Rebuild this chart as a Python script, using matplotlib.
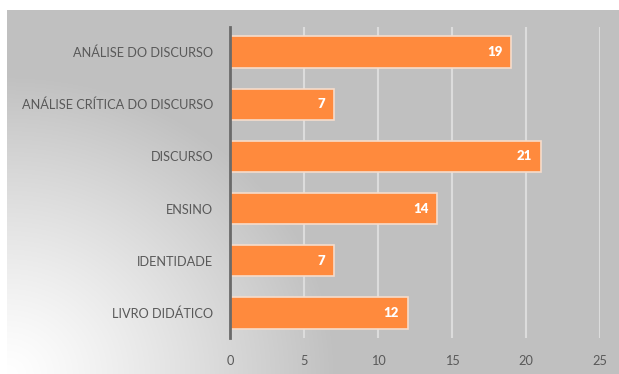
import matplotlib.pyplot as plt
import numpy as np

categorias = ['ANÁLISE DO DISCURSO', 'ANÁLISE CRÍTICA DO DISCURSO', 'DISCURSO',
              'ENSINO', 'IDENTIDADE', 'LIVRO DIDÁTICO']
valores = [19, 7, 21, 14, 7, 12]
ticks_x = [0, 5, 10, 15, 20, 25]

plt.rcParams['font.family'] = ['Lato', 'DejaVu Sans']

fig = plt.figure(figsize=(6.19, 3.74), dpi=100)

# fundo cinza com gradiente radial claro no canto inferior esquerdo
bg = fig.add_axes([7 / 619, 0, 612 / 619, 364 / 374], zorder=-10)
W, H = 612, 364
xx, yy = np.meshgrid(np.arange(W), np.arange(H))
d = np.sqrt((xx / 330.0) ** 2 + ((H - yy) / 300.0) ** 2)
t = np.clip(d, 0, 1) ** 1.2
g = 1.0 - t * (1.0 - 0.753)
img = np.dstack([g, g, g])
bg.imshow(img, aspect='auto', extent=[0, 1, 0, 1], origin='upper')
bg.set_axis_off()

ax = fig.add_axes([230 / 619, 36 / 374, 370 / 619, 311 / 374])
ax.patch.set_alpha(0)
y = np.arange(len(categorias))
ax.barh(y, valores, height=0.6, color='#FF8A3D', edgecolor='#F6DCCB', linewidth=1.2, zorder=3)

for yi, v in zip(y, valores):
    ax.text(v - 0.6, yi, str(v), ha='right', va='center', color='white',
            fontsize=9.5, fontweight='heavy', zorder=4)

ax.set_xlim(0, 25)
ax.set_ylim(len(categorias) - 0.52, -0.48)
ax.set_xticks(ticks_x)
ax.set_yticks(y)
ax.set_yticklabels(categorias)
ax.tick_params(axis='both', length=0, colors='#595959', labelsize=9.2)
ax.tick_params(axis='x', pad=12)
ax.tick_params(axis='y', pad=12)
ax.grid(axis='x', color='#DCDCDC', linewidth=1.5, zorder=1)
for s in ['top', 'right', 'bottom']:
    ax.spines[s].set_visible(False)
ax.spines['left'].set_color('#6A6A6A')
ax.spines['left'].set_linewidth(2)
ax.spines['left'].set_zorder(5)

fig.savefig('out.png', dpi=100, facecolor='white')
